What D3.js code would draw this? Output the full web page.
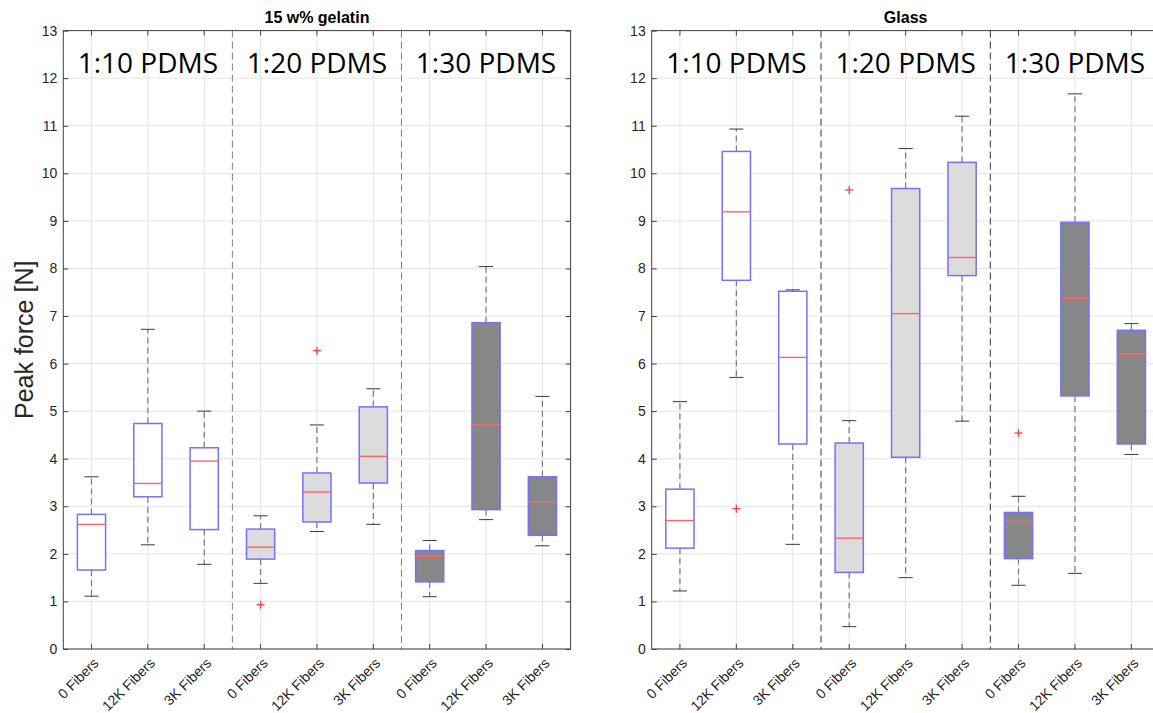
<!DOCTYPE html>
<html>
<head>
<meta charset="utf-8">
<script src="https://cdn.jsdelivr.net/npm/d3@7"></script>
<style>
  body { margin: 0; background: #fff; }
  svg { display: block; }
</style>
</head>
<body>
<div id="chart"></div>
<script>
// Category and group labels
var fiberLabels = ["0 Fibers", "12K Fibers", "3K Fibers",
                   "0 Fibers", "12K Fibers", "3K Fibers",
                   "0 Fibers", "12K Fibers", "3K Fibers"];
var groupLabels = ["1:10 PDMS", "1:20 PDMS", "1:30 PDMS"];
var yTicks = [0, 1, 2, 3, 4, 5, 6, 7, 8, 9, 10, 11, 12, 13];

// 15 w% gelatin - box stats per category
var gelLow  = [1.11, 2.19, 1.78, 1.38, 2.47, 2.62, 1.10, 2.72, 2.17];
var gelQ1   = [1.66, 3.20, 2.51, 1.89, 2.67, 3.49, 1.41, 2.93, 2.39];
var gelMed  = [2.62, 3.48, 3.95, 2.14, 3.30, 4.05, 1.95, 4.71, 3.10];
var gelQ3   = [2.83, 4.74, 4.23, 2.52, 3.70, 5.09, 2.07, 6.86, 3.62];
var gelHigh = [3.62, 6.72, 5.00, 2.80, 4.71, 5.47, 2.28, 8.04, 5.31];
var gelOut  = [[], [], [], [0.93], [6.27], [], [], [], []];

// Glass - box stats per category
var glassLow  = [1.22, 5.71, 2.20, 0.47, 1.50, 4.79, 1.34, 1.59, 4.09];
var glassQ1   = [2.12, 7.75, 4.31, 1.61, 4.03, 7.85, 1.90, 5.32, 4.31];
var glassMed  = [2.70, 9.19, 6.13, 2.33, 7.05, 8.23, 2.68, 7.37, 6.20];
var glassQ3   = [3.36, 10.46, 7.52, 4.33, 9.68, 10.23, 2.87, 8.97, 6.70];
var glassHigh = [5.20, 10.93, 7.55, 4.80, 10.52, 11.20, 3.21, 11.67, 6.84];
var glassOut  = [[], [2.95], [], [9.65], [], [], [4.54], [], []];

// Box fill for each PDMS group
var groupFill = ["#ffffff", "#dcdcdc", "#878787"];

var svgWidth = 1153, svgHeight = 713;
var yTop = 30.6, yBottom = 649;

var svg = d3.select("#chart")
  .append("svg")
  .attr("width", svgWidth)
  .attr("height", svgHeight);

var yScale = d3.scaleLinear().domain([0, 13]).range([yBottom, yTop]);

function buildRows(low, q1, med, q3, high, out) {
  return fiberLabels.map(function(name, i) {
    return { i: i, group: Math.floor(i / 3), low: low[i], q1: q1[i], med: med[i],
             q3: q3[i], high: high[i], out: out[i] };
  });
}

function drawPanel(opts) {
  var rows = opts.rows;
  var left = opts.left, right = opts.right;

  var xScale = d3.scaleBand()
    .domain(d3.range(fiberLabels.length))
    .range([left, right]);
  var bw = xScale.bandwidth();
  var cx = function(i) { return xScale(i) + bw / 2; };

  var g = svg.append("g");

  // grid
  g.append("g").selectAll("line.hgrid")
    .data(yTicks).enter().append("line")
    .attr("x1", left).attr("x2", right)
    .attr("y1", d => yScale(d)).attr("y2", d => yScale(d))
    .attr("stroke", "#e4e4e4").attr("stroke-width", 1);
  g.append("g").selectAll("line.vgrid")
    .data(d3.range(fiberLabels.length)).enter().append("line")
    .attr("x1", d => cx(d)).attr("x2", d => cx(d))
    .attr("y1", yTop).attr("y2", yBottom)
    .attr("stroke", "#e4e4e4").attr("stroke-width", 1);

  // group separators
  g.selectAll("line.sep")
    .data([3, 6]).enter().append("line")
    .attr("x1", d => xScale(d)).attr("x2", d => xScale(d))
    .attr("y1", yTop).attr("y2", yBottom)
    .attr("stroke", opts.sepColor).attr("stroke-width", 1)
    .attr("stroke-dasharray", "7,4");

  // whiskers
  var boxes = g.selectAll("g.box").data(rows).enter().append("g");
  boxes.append("line")
    .attr("x1", d => cx(d.i)).attr("x2", d => cx(d.i))
    .attr("y1", d => yScale(d.q3)).attr("y2", d => yScale(d.high))
    .attr("stroke", "#7a7a7a").attr("stroke-width", 1.2)
    .attr("stroke-dasharray", "6,4");
  boxes.append("line")
    .attr("x1", d => cx(d.i)).attr("x2", d => cx(d.i))
    .attr("y1", d => yScale(d.q1)).attr("y2", d => yScale(d.low))
    .attr("stroke", "#7a7a7a").attr("stroke-width", 1.2)
    .attr("stroke-dasharray", "6,4");
  // caps
  [ "low", "high" ].forEach(function(k) {
    boxes.append("line")
      .attr("x1", d => cx(d.i) - bw / 8).attr("x2", d => cx(d.i) + bw / 8)
      .attr("y1", d => yScale(d[k])).attr("y2", d => yScale(d[k]))
      .attr("stroke", "#3a3a3a").attr("stroke-width", 1);
  });

  // boxes
  boxes.append("rect")
    .attr("x", d => cx(d.i) - bw / 4)
    .attr("width", bw / 2)
    .attr("y", d => yScale(d.q3))
    .attr("height", d => yScale(d.q1) - yScale(d.q3))
    .attr("fill", d => groupFill[d.group])
    .attr("stroke", "#7272ff").attr("stroke-width", 1.5);

  // medians
  boxes.append("line")
    .attr("x1", d => cx(d.i) - bw / 4).attr("x2", d => cx(d.i) + bw / 4)
    .attr("y1", d => yScale(d.med)).attr("y2", d => yScale(d.med))
    .attr("stroke", "#ff6464").attr("stroke-width", 1.4);

  // outliers
  var outs = [];
  rows.forEach(function(d) { d.out.forEach(function(v) { outs.push({ i: d.i, v: v }); }); });
  var pts = g.selectAll("g.out").data(outs).enter().append("g")
    .attr("transform", d => `translate(${cx(d.i)}, ${yScale(d.v)})`);
  pts.append("line").attr("x1", -4).attr("x2", 4).attr("y1", 0).attr("y2", 0)
    .attr("stroke", "#ff3b3b").attr("stroke-width", 1.3);
  pts.append("line").attr("x1", 0).attr("x2", 0).attr("y1", -4).attr("y2", 4)
    .attr("stroke", "#ff3b3b").attr("stroke-width", 1.3);

  // frame
  g.append("rect")
    .attr("x", left).attr("y", yTop)
    .attr("width", right - left).attr("height", yBottom - yTop)
    .attr("fill", "none").attr("stroke", "#404040").attr("stroke-width", 1);

  // y axis (left) + inward ticks on right
  var yAxis = d3.axisLeft(yScale).tickValues(yTicks).tickSizeInner(-5).tickSizeOuter(0).tickPadding(6);
  var ya = g.append("g").attr("transform", `translate(${left}, 0)`).call(yAxis);
  ya.select(".domain").remove();
  ya.selectAll("line").attr("stroke", "#404040");
  ya.selectAll("text").attr("fill", "#262626")
    .style("font-family", "'Liberation Sans', Arial, sans-serif").style("font-size", "14px");

  var yAxisR = d3.axisRight(yScale).tickValues(yTicks).tickSizeInner(-5).tickSizeOuter(0).tickFormat("");
  var yr = g.append("g").attr("transform", `translate(${right}, 0)`).call(yAxisR);
  yr.select(".domain").remove();
  yr.selectAll("line").attr("stroke", "#404040");

  // x axis bottom + inward ticks on top
  var xAxis = d3.axisBottom(xScale).tickSizeInner(-5).tickSizeOuter(0)
    .tickFormat(i => fiberLabels[i]);
  var xa = g.append("g").attr("transform", `translate(0, ${yBottom})`).call(xAxis);
  xa.select(".domain").remove();
  xa.selectAll("line").attr("stroke", "#404040");
  xa.selectAll("text")
    .attr("fill", "#262626")
    .attr("y", 0).attr("dy", 0)
    .attr("text-anchor", "end")
    .attr("transform", "translate(8, 15) rotate(-45)")
    .style("font-family", "'Liberation Sans', Arial, sans-serif").style("font-size", "14px");

  var xAxisT = d3.axisTop(xScale).tickSizeInner(-5).tickSizeOuter(0).tickFormat("");
  var xt = g.append("g").attr("transform", `translate(0, ${yTop})`).call(xAxisT);
  xt.select(".domain").remove();
  xt.selectAll("line").attr("stroke", "#404040");

  // PDMS group labels
  g.selectAll("text.grp").data(groupLabels).enter().append("text")
    .attr("x", (d, k) => cx(k * 3 + 1))
    .attr("y", 73)
    .attr("text-anchor", "middle")
    .attr("fill", "#000")
    .style("font-family", "'Open Sans', 'Noto Sans', sans-serif")
    .style("font-size", "28px")
    .text(d => d);

  // title
  g.append("text")
    .attr("x", (left + right) / 2)
    .attr("y", 23)
    .attr("text-anchor", "middle")
    .attr("fill", "#000")
    .style("font-family", "'Liberation Sans', Arial, sans-serif")
    .style("font-size", "16px")
    .style("font-weight", "bold")
    .text(opts.title);
}

drawPanel({
  title: "15 w% gelatin",
  left: 63.3, right: 570.6,
  sepColor: "#808080",
  rows: buildRows(gelLow, gelQ1, gelMed, gelQ3, gelHigh, gelOut)
});

drawPanel({
  title: "Glass",
  left: 651.7, right: 1159.6,
  sepColor: "#333333",
  rows: buildRows(glassLow, glassQ1, glassMed, glassQ3, glassHigh, glassOut)
});

// y axis label
svg.append("text")
  .attr("transform", `translate(33, ${(yTop + yBottom) / 2}) rotate(-90)`)
  .attr("text-anchor", "middle")
  .attr("fill", "#262626")
  .style("font-family", "'Liberation Sans', Arial, sans-serif")
  .style("font-size", "25px")
  .text("Peak force [N]");
</script>
</body>
</html>
